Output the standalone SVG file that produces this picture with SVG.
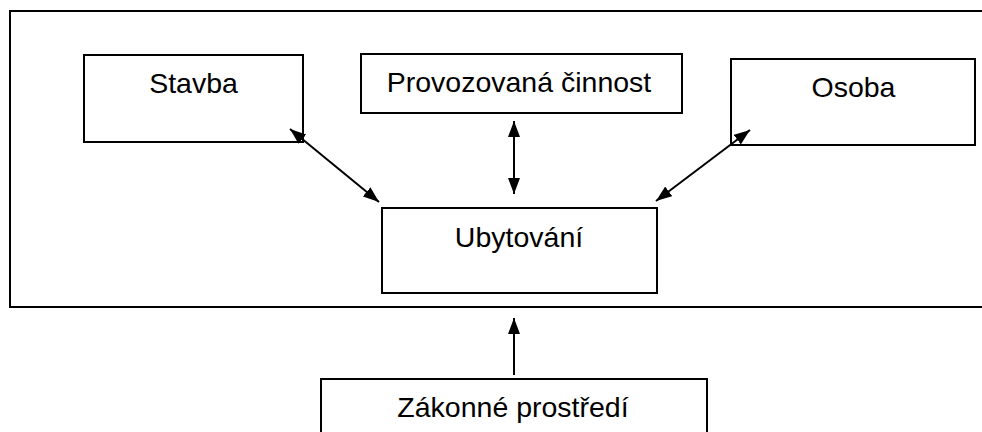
<svg xmlns="http://www.w3.org/2000/svg" width="982" height="432" viewBox="0 0 982 432">
<style>
.box{fill:#fff;stroke:#000;stroke-width:2}
.lbl{font-family:"Liberation Sans",Arial,sans-serif;font-size:28.5px;fill:#000;text-anchor:middle}
.con{stroke:#000;stroke-width:2;fill:none}
</style>
<defs>
<marker id="ah" viewBox="0 0 16 12" refX="16" refY="6" markerWidth="16" markerHeight="12" markerUnits="userSpaceOnUse" orient="auto-start-reverse">
<path d="M0,0 L16,6 L0,12 Z" fill="#000"/>
</marker>
</defs>
<rect width="982" height="432" fill="#fff"/>
<g id="frame"><rect class="box" x="10" y="11" width="990" height="296"/></g>
<g id="stavba"><rect class="box" x="84" y="55" width="219" height="87"/><text class="lbl" x="193.5" y="93">Stavba</text></g>
<g id="cinnost"><rect class="box" x="361" y="54" width="321" height="59"/><text class="lbl" x="519" y="92">Provozovaná činnost</text></g>
<g id="osoba"><rect class="box" x="731" y="59" width="244" height="86"/><text class="lbl" x="853.5" y="97">Osoba</text></g>
<g id="ubytovani"><rect class="box" x="382" y="208" width="275" height="85"/><text class="lbl" x="519" y="247">Ubytování</text></g>
<g id="zakonne"><rect class="box" x="321" y="379" width="386" height="70"/><text class="lbl" x="513" y="417">Zákonné prostředí</text></g>
<g id="connectors">
<line class="con" x1="290" y1="129" x2="379" y2="202" marker-start="url(#ah)" marker-end="url(#ah)"/>
<line class="con" x1="514" y1="121" x2="514" y2="194" marker-start="url(#ah)" marker-end="url(#ah)"/>
<line class="con" x1="750" y1="130" x2="656" y2="201" marker-start="url(#ah)" marker-end="url(#ah)"/>
<line class="con" x1="514" y1="375" x2="514" y2="318" marker-end="url(#ah)"/>
</g>
</svg>
